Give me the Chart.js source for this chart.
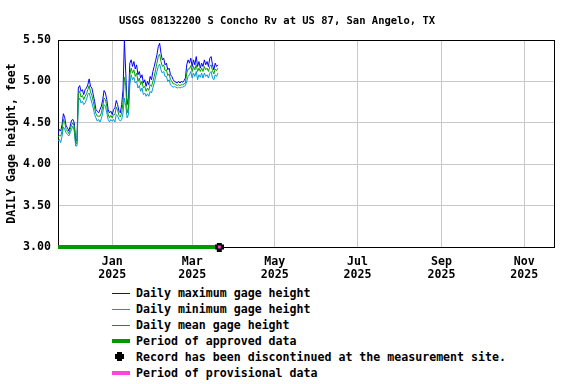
<!DOCTYPE html>
<html>
<head>
<meta charset="utf-8">
<script src="https://cdn.jsdelivr.net/npm/chart.js"></script>
<style>
  body { margin: 0; background: #fff; }
  #wrap { position: relative; width: 576px; height: 384px; }
  #myChart { position: absolute; left: 0; top: 0; }
  .legend { position: absolute; left: 0; top: 0; width: 576px; font: bold 11.6px "DejaVu Sans Mono", monospace; color: #000; }
  .row { position: absolute; left: 0; width: 560px; height: 16px; white-space: nowrap; }
  .row .txt { position: absolute; left: 136px; top: 0; line-height: 16px; }
  .sym { position: absolute; left: 112px; width: 18px; }
  .thin { top: 8px; height: 1px; }
  .thick { top: 6px; height: 4px; }
  .crossV { position: absolute; left: 117px; top: 3px; width: 5px; height: 9px; background: #000; }
  .crossH { position: absolute; left: 115px; top: 5px; width: 9px; height: 5px; background: #000; }
</style>
</head>
<body>
<div id="wrap">
  <canvas id="myChart" width="576" height="284"></canvas>
  <div class="legend">
    <div class="row" style="top:285px"><div class="sym thin" style="background:#0000ff"></div><span class="txt">Daily maximum gage height</span></div>
    <div class="row" style="top:301px"><div class="sym thin" style="background:#0099dd"></div><span class="txt">Daily minimum gage height</span></div>
    <div class="row" style="top:317px"><div class="sym thin" style="background:#00a000"></div><span class="txt">Daily mean gage height</span></div>
    <div class="row" style="top:333px"><div class="sym thick" style="background:#009900"></div><span class="txt">Period of approved data</span></div>
    <div class="row" style="top:349px"><div class="crossV"></div><div class="crossH"></div><span class="txt">Record has been discontinued at the measurement site.</span></div>
    <div class="row" style="top:365px"><div class="sym thick" style="background:#ff44dd"></div><span class="txt">Period of provisional data</span></div>
  </div>
</div>
<script>
// day 0 = 2024-11-22, one value per day
var maxHeight = [
  4.37, 4.42, 4.40, 4.48, 4.61, 4.56, 4.46, 4.44, 4.40, 4.46,
  4.53, 4.54, 4.50, 4.30, 4.28, 4.92, 4.95, 4.88, 4.90, 4.84,
  4.90, 4.92, 4.96, 5.03, 4.94, 4.92, 4.84, 4.76, 4.66, 4.64,
  4.62, 4.66, 4.70, 4.78, 4.89, 4.86, 4.78, 4.66, 4.62, 4.64,
  4.60, 4.66, 4.68, 4.77, 4.72, 4.64, 4.62, 4.72, 4.90, 5.50,
  5.10, 4.72, 4.80, 5.22, 5.26, 5.18, 5.24, 5.15, 5.20, 5.08,
  5.12, 5.04, 5.08, 4.98, 5.02, 4.94, 5.00, 4.96, 5.06, 5.02,
  5.12, 5.18, 5.25, 5.32, 5.42, 5.46, 5.34, 5.26, 5.28, 5.20,
  5.22, 5.14, 5.16, 5.08, 5.06, 5.02, 5.00, 4.99, 4.98, 5.00,
  4.98, 5.00, 4.99, 5.01, 5.04, 5.20, 5.26, 5.22, 5.28, 5.18,
  5.26, 5.20, 5.30, 5.18, 5.24, 5.16, 5.22, 5.18, 5.26, 5.20,
  5.24, 5.18, 5.28, 5.30, 5.20, 5.14, 5.22, 5.18, 5.20
];
var minHeight = [
  4.28, 4.30, 4.26, 4.34, 4.45, 4.42, 4.38, 4.36, 4.34, 4.38,
  4.42, 4.46, 4.40, 4.22, 4.22, 4.76, 4.80, 4.74, 4.76, 4.72,
  4.74, 4.78, 4.84, 4.86, 4.80, 4.74, 4.68, 4.60, 4.56, 4.52,
  4.54, 4.51, 4.55, 4.62, 4.72, 4.70, 4.62, 4.54, 4.51, 4.54,
  4.52, 4.54, 4.51, 4.60, 4.58, 4.54, 4.52, 4.54, 4.62, 4.80,
  4.70, 4.56, 4.60, 4.95, 5.08, 5.02, 5.05, 4.98, 5.00, 4.92,
  4.95, 4.88, 4.92, 4.84, 4.86, 4.82, 4.85, 4.82, 4.88, 4.86,
  4.92, 4.98, 5.05, 5.12, 5.18, 5.21, 5.14, 5.10, 5.12, 5.06,
  5.06, 5.00, 5.02, 4.96, 4.94, 4.93, 4.94, 4.93, 4.92, 4.93,
  4.92, 4.93, 4.93, 4.94, 4.95, 5.00, 5.06, 5.08, 5.12, 5.04,
  5.10, 5.06, 5.12, 5.02, 5.08, 5.05, 5.10, 5.04, 5.10, 5.06,
  5.08, 5.04, 5.10, 5.12, 5.04, 5.02, 5.08, 5.06, 5.10
];
var meanHeight = [
  4.33, 4.35, 4.34, 4.40, 4.54, 4.50, 4.42, 4.40, 4.37, 4.42,
  4.47, 4.50, 4.46, 4.26, 4.25, 4.85, 4.88, 4.81, 4.83, 4.78,
  4.82, 4.85, 4.90, 4.95, 4.87, 4.83, 4.76, 4.68, 4.61, 4.58,
  4.58, 4.58, 4.62, 4.70, 4.80, 4.78, 4.70, 4.60, 4.56, 4.59,
  4.56, 4.60, 4.60, 4.69, 4.65, 4.59, 4.57, 4.62, 4.75, 5.05,
  4.95, 4.62, 4.68, 5.08, 5.16, 5.10, 5.14, 5.06, 5.10, 5.00,
  5.04, 4.96, 5.00, 4.92, 4.94, 4.88, 4.92, 4.89, 4.96, 4.94,
  5.00, 5.06, 5.14, 5.22, 5.30, 5.33, 5.24, 5.18, 5.20, 5.13,
  5.14, 5.07, 5.09, 5.02, 5.00, 4.97, 4.97, 4.96, 4.95, 4.96,
  4.95, 4.96, 4.96, 4.97, 4.98, 5.10, 5.15, 5.15, 5.19, 5.12,
  5.18, 5.14, 5.20, 5.12, 5.16, 5.12, 5.16, 5.12, 5.18, 5.14,
  5.16, 5.12, 5.18, 5.20, 5.13, 5.09, 5.15, 5.13, 5.16
];
var approvedDays = [0, 119];
var discontinuedDay = 119;
var baseHeight = 3.0;
var tickDays = [40, 99, 160, 221, 283, 344];
var tickMonths = ['Jan', 'Mar', 'May', 'Jul', 'Sep', 'Nov'];
var tickYear = '2025';

var FONT = "'DejaVu Sans Mono', monospace";

function toPts(arr) {
  return arr.map(function(v, i) { return {x: i, y: v}; });
}

// fat cross with magenta middle
var marker = document.createElement('canvas');
marker.width = 9; marker.height = 9;
var mc = marker.getContext('2d');
mc.fillStyle = '#000';
mc.fillRect(2, 0, 5, 9);
mc.fillRect(0, 2, 9, 5);
mc.fillStyle = '#ee44dd';
mc.fillRect(3, 3, 3, 3);

var framePlugin = {
  id: 'frame',
  beforeDatasetsDraw: function(chart) {
    var a = chart.chartArea, c = chart.ctx;
    c.save();
    c.strokeStyle = '#000';
    c.lineWidth = 1;
    c.strokeRect(Math.round(a.left) + 0.5, Math.round(a.top) + 0.5,
      Math.round(a.right - a.left), Math.round(a.bottom - a.top));
    c.restore();
  }
};

var myChart = new Chart(document.getElementById('myChart'), {
  type: 'line',
  data: {
    datasets: [
      { label: 'Daily maximum gage height', data: toPts(maxHeight), borderColor: '#0000ff', borderWidth: 1, pointRadius: 0, order: 3 },
      { label: 'Daily minimum gage height', data: toPts(minHeight), borderColor: '#0099dd', borderWidth: 1, pointRadius: 0, order: 2 },
      { label: 'Daily mean gage height', data: toPts(meanHeight), borderColor: '#00a000', borderWidth: 1, pointRadius: 0, order: 1 },
      { label: 'Period of approved data', data: approvedDays.map(function(d) { return {x: d, y: baseHeight}; }),
        borderColor: '#009900', borderWidth: 4, pointRadius: 0, clip: false, order: 0 },
      { label: 'Record has been discontinued', data: [{x: discontinuedDay, y: baseHeight}], showLine: false,
        pointStyle: marker, pointRadius: 5, clip: false, order: -1 }
    ]
  },
  options: {
    responsive: false,
    animation: false,
    devicePixelRatio: 1,
    layout: { padding: { left: 0, right: 22, top: 0, bottom: 0 } },
    plugins: {
      legend: { display: false },
      tooltip: { enabled: false },
      title: {
        display: true,
        text: 'USGS 08132200 S Concho Rv at US 87, San Angelo, TX',
        color: '#000',
        font: { family: FONT, size: 10.5, weight: 'bold', lineHeight: '13px' },
        padding: { top: 15, bottom: 12 }
      }
    },
    scales: {
      x: {
        type: 'linear',
        min: 0,
        max: 366,
        afterBuildTicks: function(s) { s.ticks = tickDays.map(function(v) { return {value: v}; }); },
        afterFit: function(s) { s.height = 37; },
        ticks: {
          autoSkip: false,
          maxRotation: 0,
          padding: 9,
          color: '#000',
          font: { family: FONT, size: 11.6, weight: 'bold', lineHeight: 1.08 },
          callback: function(v, i) { return [tickMonths[i], tickYear]; }
        },
        grid: { color: '#c8c8c8', drawTicks: false },
        border: { display: false }
      },
      y: {
        min: 3,
        max: 5.5,
        afterFit: function(s) { s.width = 58; },
        ticks: {
          stepSize: 0.5,
          padding: 7,
          color: '#000',
          font: { family: FONT, size: 11.6, weight: 'bold' },
          callback: function(v) { return v.toFixed(2); }
        },
        grid: { color: '#c8c8c8', drawTicks: false },
        border: { display: false },
        title: {
          display: true,
          text: 'DAILY Gage height, feet',
          color: '#000',
          font: { family: FONT, size: 11.6, weight: 'bold' },
          padding: { top: 5, bottom: 0 }
        }
      }
    }
  },
  plugins: [framePlugin]
});
</script>
</body>
</html>
